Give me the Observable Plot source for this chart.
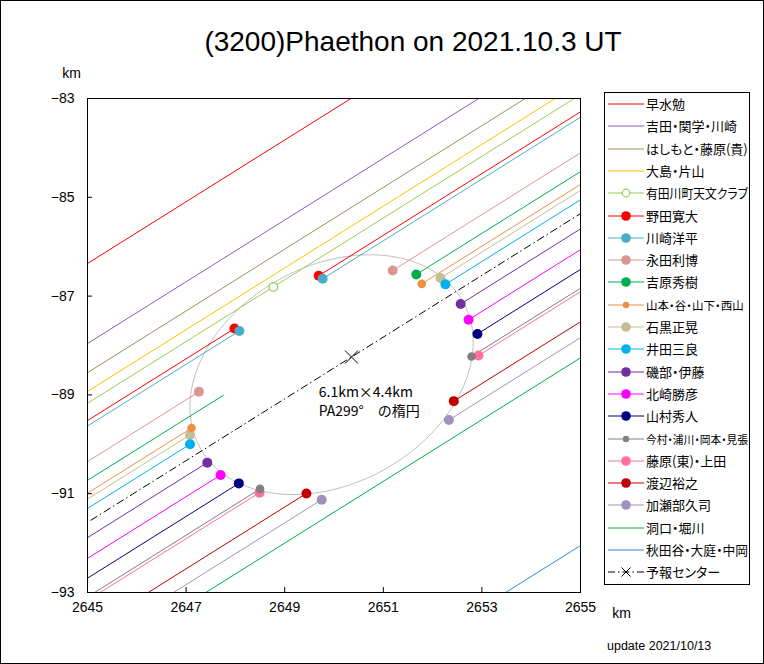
<!DOCTYPE html>
<html>
<head>
<meta charset="utf-8">
<script src="https://cdn.jsdelivr.net/npm/d3@7"></script>
<script src="https://cdn.jsdelivr.net/npm/@observablehq/plot@0.6"></script>
<style>
  body { margin: 0; background: #fff; }
  #wrap { position: relative; width: 764px; height: 664px; overflow: hidden; background: #fff;
          font-family: "Liberation Sans", Arial, sans-serif; color: #000; }
  #border { position: absolute; left: 0; top: 0; width: 764px; height: 664px; box-sizing: border-box;
            border: 1px solid #000; pointer-events: none; }
  #title { position: absolute; left: 413px; top: 22px; transform: translateX(-50%); white-space: nowrap;
           font-size: 28px; line-height: 40px; }
  #chart { position: absolute; left: 0; top: 60px; }
  #legend { position: absolute; left: 604px; top: 92px; width: 146px; height: 493px; box-sizing: border-box;
            border: 1px solid #000; background: #fff; }
  .entry { position: absolute; left: 0; height: 16px; width: 144px; }
  .entry svg { position: absolute; left: 3px; top: 2px; }
  .entry span { position: absolute; left: 41px; top: 0; line-height: 16px; white-space: nowrap; transform-origin: 0 50%;
                font-family: "Noto Sans CJK JP", sans-serif; font-size: 13px; font-feature-settings: "palt" 1; }
  #update { position: absolute; left: 607px; top: 639px; font-size: 12.5px; white-space: nowrap; }
</style>
</head>
<body>
<div id="wrap">
  <div id="title"></div>
  <div id="chart"></div>
  <div id="legend"></div>
  <div id="update"></div>
  <div id="border"></div>
</div>
<script>
// ---------- data ----------
const titleText = "(3200)Phaethon on 2021.10.3 UT";
const updateText = "update 2021/10/13";
const axisUnit = "km";
const xTicks = [2645, 2647, 2649, 2651, 2653, 2655];
const yTicks = [-83, -85, -87, -89, -91, -93];

const observers = [
  "早水勉", "吉田・関学・川崎", "はしもと・藤原(貴)", "大島・片山", "有田川町天文クラブ",
  "野田寛大", "川崎洋平", "永田利博", "吉原秀樹", "山本・谷・山下・西山",
  "石黒正晃", "井田三良", "磯部・伊藤", "北崎勝彦", "山村秀人",
  "今村・浦川・岡本・見張", "藤原(東)・上田", "渡辺裕之", "加瀬部久司", "洞口・堀川",
  "秋田谷・大庭・中岡"
];
const lineColors = [
  "#ff0000", "#8a5ac2", "#9c8e60", "#ffc000", "#92d050",
  "#ff0000", "#4bacc6", "#da9694", "#00b050", "#ef9040",
  "#c4bd97", "#00b0f0", "#7030a0", "#ff00ff", "#000080",
  "#808080", "#ff6f9f", "#c00000", "#a092c0", "#00b050",
  "#2f88d8"
];
// marker kind: none / open / dot / small
const markerKind = [
  "none", "none", "none", "none", "open",
  "dot", "dot", "dot", "dot", "small",
  "dot", "dot", "dot", "dot", "dot",
  "small", "dot", "dot", "dot", "none",
  "none"
];
// chord position: y (km) where each chord crosses x = 2645 km
const yAt2645 = [
  -86.34, -87.96, -88.55, -88.93, -89.17,
  -89.52, -89.63, -90.35, -90.73, -90.99,
  -91.11, -91.30, -91.89, -92.31, -92.71,
  -93.09, -93.16, -93.77, -94.09, -94.50,
  -98.30
];
// occulted gap of each chord (x in km), null = continuous
const gapFrom = [
  null, null, null, null, null,
  2647.98, 2648.08, 2647.26, 2647.76, 2647.11,
  2647.08, 2647.08, 2647.43, 2647.70, 2648.07,
  2648.50, 2648.49, 2649.44, 2649.75, null,
  null
];
const gapTo = [
  null, null, null, null, null,
  2649.69, 2649.77, 2651.19, 2651.67, 2651.78,
  2652.16, 2652.26, 2652.57, 2652.73, 2652.91,
  2652.79, 2652.93, 2652.43, 2652.33, null,
  null
];
// marker positions (x in km)
const leftMarkX = [
  null, null, null, null, 2648.77,
  2647.98, 2648.08, 2647.26, null, 2647.11,
  2647.08, 2647.08, 2647.43, 2647.70, 2648.07,
  2648.50, 2648.49, 2649.44, 2649.75, null,
  null
];
const rightMarkX = [
  null, null, null, null, null,
  2649.69, 2649.77, 2651.19, 2651.67, 2651.78,
  2652.16, 2652.26, 2652.57, 2652.73, 2652.91,
  2652.79, 2652.93, 2652.43, 2652.33, null,
  null
];
const chordSlope = 0.625; // direction of the shadow motion (km per km)

const predName = "予報センター";
const predYAt2645 = -91.58;
const predCenterX = 2650.355;

const ellipseCenterX = 2649.95;
const ellipseCenterY = -88.59;
const ellipseMajor = 6.1;
const ellipseMinor = 4.4;
const ellipsePA = 299;
const annotationLines = ["6.1km×4.4km", "PA299°　の楕円"];
const annotationX = 2649.69;
const annotationY = -88.78;

// ---------- derived tables ----------
const chordY = (i, x) => yAt2645[i] + chordSlope * (x - 2645);
const segments = [];
const markers = [];
observers.forEach((name, i) => {
  if (gapFrom[i] == null) {
    segments.push({x1: 2640, y1: chordY(i, 2640), x2: 2660, y2: chordY(i, 2660), color: lineColors[i]});
  } else {
    segments.push({x1: 2640, y1: chordY(i, 2640), x2: gapFrom[i], y2: chordY(i, gapFrom[i]), color: lineColors[i]});
    segments.push({x1: gapTo[i], y1: chordY(i, gapTo[i]), x2: 2660, y2: chordY(i, 2660), color: lineColors[i]});
  }
  for (const mx of [leftMarkX[i], rightMarkX[i]]) {
    if (mx != null) markers.push({x: mx, y: chordY(i, mx), color: lineColors[i], kind: markerKind[i],
                                  r: markerKind[i] === "small" ? 4.3 : 5});
  }
});
const predY = x => predYAt2645 + chordSlope * (x - 2645);
const pred = [{x1: 2640, y1: predY(2640), x2: 2660, y2: predY(2660)}];
const predCenter = [{x: predCenterX, y: predY(predCenterX)}];

const th = (ellipsePA - 270) * Math.PI / 180;
const ea = ellipseMajor / 2, eb = ellipseMinor / 2;
const ellipsePts = d3.range(0, 361, 2).map(t => {
  const r = t * Math.PI / 180;
  const u = ea * Math.cos(r), v = eb * Math.sin(r);
  return {x: ellipseCenterX + u * Math.cos(th) - v * Math.sin(th),
          y: ellipseCenterY + u * Math.sin(th) + v * Math.cos(th)};
});

// ---------- chart ----------
document.getElementById("title").textContent = titleText;
document.getElementById("update").textContent = updateText;

const chart = Plot.plot({
  width: 764,
  height: 604,
  marginTop: 38,
  marginBottom: 72,
  marginLeft: 87,
  marginRight: 184,
  x: {domain: [2645, 2655]},
  y: {domain: [-93, -83]},
  r: {type: "identity"},
  style: {fontFamily: '"Liberation Sans", Arial, sans-serif', fontSize: "14px", color: "#000", background: "transparent", overflow: "visible"},
  marks: [
    Plot.line(ellipsePts, {x: "x", y: "y", stroke: "#c0c0c0", strokeWidth: 1}),
    Plot.link(segments, {x1: "x1", y1: "y1", x2: "x2", y2: "y2", stroke: "color", strokeWidth: 1, clip: true}),
    Plot.link(pred, {x1: "x1", y1: "y1", x2: "x2", y2: "y2", stroke: "#000", strokeWidth: 1, strokeDasharray: "8,3,1.5,3", clip: true}),
    Plot.dot(predCenter, {x: "x", y: "y", symbol: "times", r: 6, stroke: "#000", strokeWidth: 1}),
    Plot.dot(markers.filter(d => d.kind === "open"), {x: "x", y: "y", r: 4.3, fill: "#fff", stroke: "color", strokeWidth: 1.3}),
    Plot.dot(markers.filter(d => d.kind !== "open"), {x: "x", y: "y", r: "r", fill: "color", stroke: null}),
    Plot.text([annotationLines.join("\n")], {x: () => annotationX, y: () => annotationY, textAnchor: "start", lineAnchor: "top",
      lineHeight: 1.35, fontSize: 14, fontFamily: '"Noto Sans CJK JP", sans-serif', fill: "#000"}),
    Plot.tickX(xTicks, {x: d => d, stroke: "#000", insetTop: 489}),
    Plot.tickY(yTicks, {y: d => d, stroke: "#000", insetRight: 488}),
    Plot.axisX({ticks: xTicks, tickFormat: "d", tickSize: 0, tickPadding: 10, label: null, fontSize: 14}),
    Plot.axisY({ticks: yTicks, tickFormat: "d", tickSize: 0, tickPadding: 13, label: null, fontSize: 14}),
    Plot.text([axisUnit], {frameAnchor: "top-left", dx: -16, dy: -25, textAnchor: "middle", lineAnchor: "middle", fontSize: 14}),
    Plot.text([axisUnit], {frameAnchor: "bottom-right", dx: 41, dy: 21, textAnchor: "middle", lineAnchor: "middle", fontSize: 14}),
    Plot.frame({stroke: "#000", strokeWidth: 1})
  ]
});
document.getElementById("chart").appendChild(chart);

// ---------- legend ----------
const legend = document.getElementById("legend");
const ns = "http://www.w3.org/2000/svg";
function addEntry(i, label, color, kind) {
  const div = document.createElement("div");
  div.className = "entry";
  div.style.top = (3 + i * 22.3) + "px";
  const svg = document.createElementNS(ns, "svg");
  svg.setAttribute("width", 38); svg.setAttribute("height", 12);
  const line = document.createElementNS(ns, "line");
  line.setAttribute("x1", 0); line.setAttribute("x2", 36); line.setAttribute("y1", 6); line.setAttribute("y2", 6);
  line.setAttribute("stroke", color); line.setAttribute("stroke-width", 1);
  if (kind === "pred") line.setAttribute("stroke-dasharray", "7,3,1.5,3");
  svg.appendChild(line);
  if (kind === "dot" || kind === "small" || kind === "open") {
    const c = document.createElementNS(ns, "circle");
    c.setAttribute("cx", 18); c.setAttribute("cy", 6);
    c.setAttribute("r", kind === "small" ? 3.2 : kind === "open" ? 3.8 : 4.8);
    if (kind === "open") { c.setAttribute("fill", "#fff"); c.setAttribute("stroke", color); c.setAttribute("stroke-width", 1.2); }
    else c.setAttribute("fill", color);
    svg.appendChild(c);
  }
  if (kind === "pred") {
    const p = document.createElementNS(ns, "path");
    p.setAttribute("d", "M13.5,1.5L22.5,10.5M22.5,1.5L13.5,10.5");
    p.setAttribute("stroke", "#000"); p.setAttribute("stroke-width", 1);
    svg.appendChild(p);
  }
  div.appendChild(svg);
  const span = document.createElement("span");
  span.textContent = label;
  if (kind === "small") { span.style.fontSize = "11.5px"; }
  div.appendChild(span);
  legend.appendChild(div);
  const w = span.getBoundingClientRect().width;
  const maxW = 102;
  if (w > maxW) span.style.transform = `scaleX(${maxW / w})`;
}
observers.forEach((name, i) => addEntry(i, name, lineColors[i], markerKind[i] === "none" ? "line" : markerKind[i]));
addEntry(observers.length, predName, "#000", "pred");
</script>
</body>
</html>
